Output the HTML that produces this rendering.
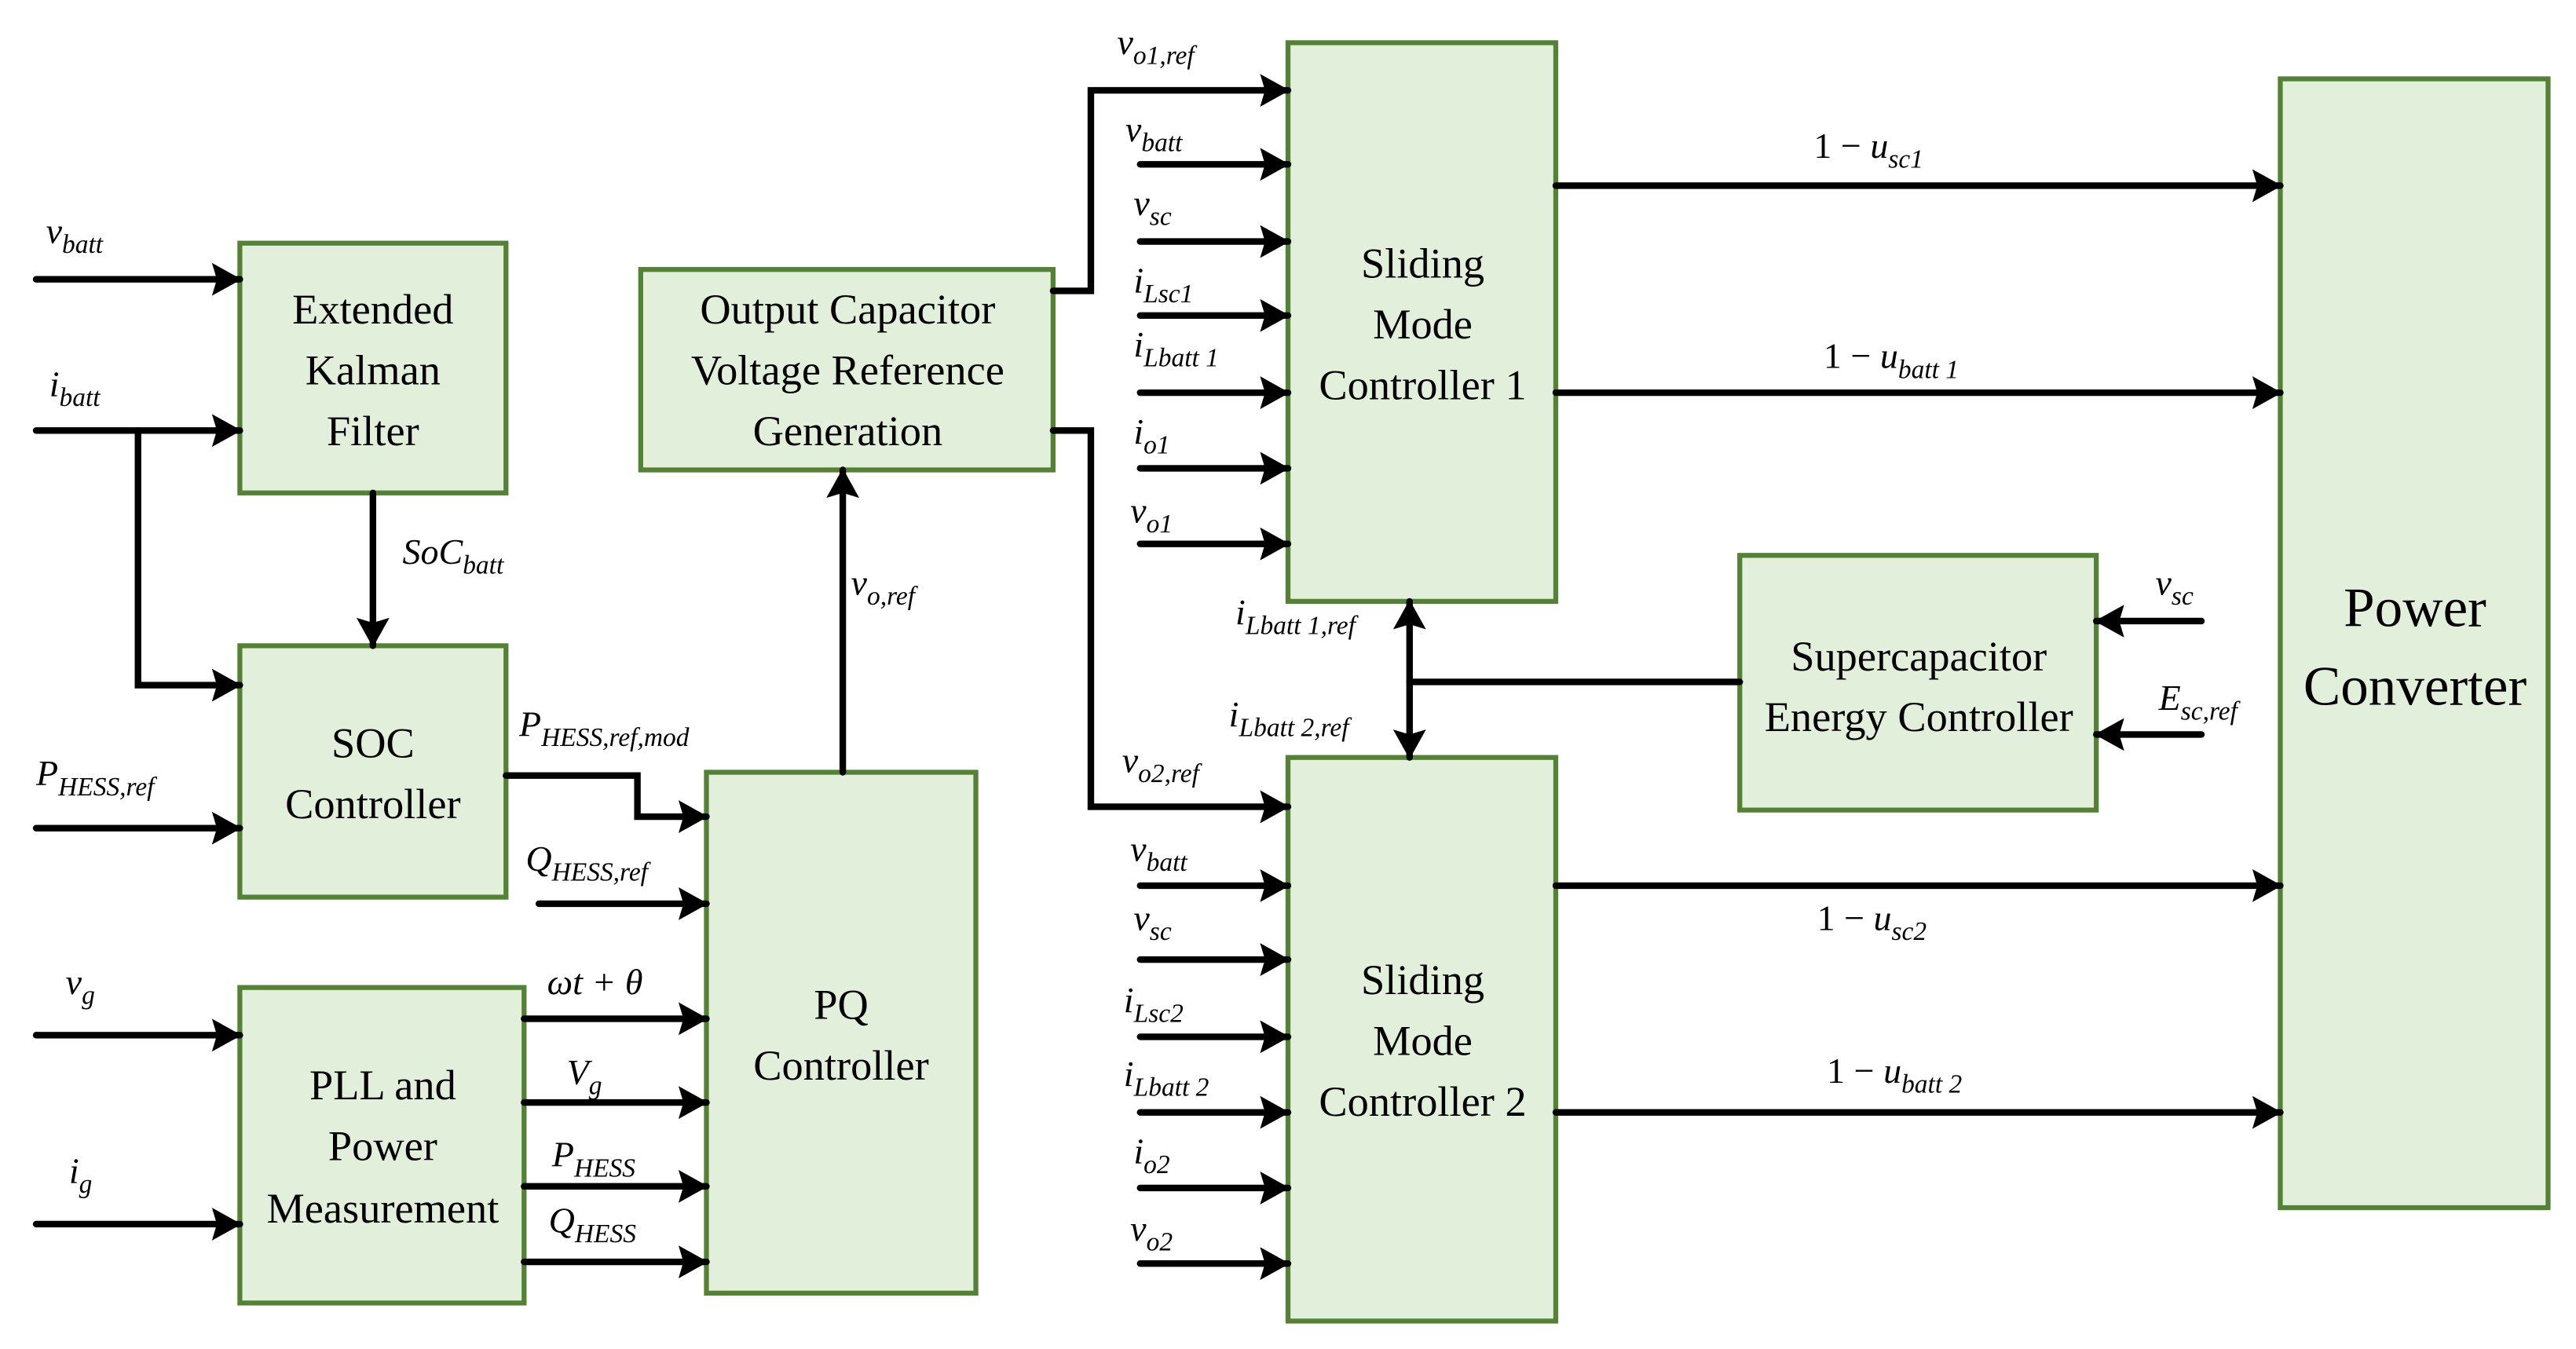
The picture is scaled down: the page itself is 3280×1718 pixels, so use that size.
<!DOCTYPE html>
<html><head><meta charset="utf-8"><style>
html,body{margin:0;padding:0;background:#fff;}
svg{display:block;font-family:'Liberation Serif','DejaVu Serif',serif;}
svg text{font-family:'Liberation Serif','DejaVu Serif',serif;fill:#000;}
.b{fill:#e2efda;stroke:#548235;stroke-width:3;}
.t{font-size:26px;text-anchor:middle;}
.l{fill:none;stroke:#000;stroke-width:4;stroke-linecap:round;}
.m{font-size:22px;font-style:italic;}
.s{font-size:16px;}
</style></head><body>
<svg width="3280" height="1718" viewBox="0 0 1568 821" preserveAspectRatio="none" xmlns="http://www.w3.org/2000/svg" font-family="Liberation Serif, serif">
<defs>
<marker id="a" markerUnits="userSpaceOnUse" markerWidth="18" markerHeight="20" refX="17" refY="10" orient="auto-start-reverse"><path d="M0,0 L18,10 L0,20 L3,10 Z" fill="#000"/></marker>
</defs>
<rect class="b" x="146" y="148" width="162" height="152"/>
<text class="t" x="227" y="197">Extended</text><text class="t" x="227" y="234">Kalman</text><text class="t" x="227" y="271">Filter</text>
<rect class="b" x="146" y="393" width="162" height="153"/>
<text class="t" x="227" y="461">SOC</text><text class="t" x="227" y="498">Controller</text>
<rect class="b" x="146" y="601" width="173" height="192"/>
<text class="t" x="233" y="669">PLL and</text><text class="t" x="233" y="706">Power</text><text class="t" x="233" y="744">Measurement</text>
<rect class="b" x="390" y="164" width="251" height="122"/>
<text class="t" x="516" y="197">Output Capacitor</text><text class="t" x="516" y="234">Voltage Reference</text><text class="t" x="516" y="271">Generation</text>
<rect class="b" x="430" y="470" width="164" height="317"/>
<text class="t" x="512" y="620">PQ</text><text class="t" x="512" y="657">Controller</text>
<rect class="b" x="784" y="26" width="163" height="340"/>
<text class="t" x="866" y="169">Sliding</text><text class="t" x="866" y="206">Mode</text><text class="t" x="866" y="243">Controller 1</text>
<rect class="b" x="784" y="461" width="163" height="343"/>
<text class="t" x="866" y="605">Sliding</text><text class="t" x="866" y="642">Mode</text><text class="t" x="866" y="679">Controller 2</text>
<rect class="b" x="1059" y="338" width="217" height="155"/>
<text class="t" x="1168" y="408">Supercapacitor</text><text class="t" x="1168" y="445">Energy Controller</text>
<rect class="b" x="1388" y="48" width="163" height="687"/>
<text class="t" x="1470" y="381" style="font-size:34px">Power</text><text class="t" x="1470" y="429" style="font-size:34px">Converter</text>
<g class="l" marker-end="url(#a)">
<path d="M22,170H146"/><path d="M22,262H146"/><path d="M84,262V417H146"/>
<path d="M227,300V393"/><path d="M22,504H146"/><path d="M22,630H146"/><path d="M22,745H146"/>
<path d="M308,472H388V497H430"/><path d="M328,550H430"/>
<path d="M319,620H430"/><path d="M319,671H430"/><path d="M319,722H430"/><path d="M319,768H430"/>
<path d="M513,470V286"/>
<path d="M641,177H664V55H784"/><path d="M641,262H664V491H784"/>
<path d="M694,100H784"/><path d="M694,147H784"/><path d="M694,192H784"/><path d="M694,239H784"/><path d="M694,285H784"/><path d="M694,331H784"/>
<path d="M694,539H784"/><path d="M694,584H784"/><path d="M694,631H784"/><path d="M694,677H784"/><path d="M694,723H784"/><path d="M694,769H784"/>
<path d="M947,113H1388"/><path d="M947,239H1388"/><path d="M947,539H1388"/><path d="M947,677H1388"/>
<path d="M1340,378H1276"/><path d="M1340,447H1276"/>
<path d="M858,415V461" /><path d="M858,415V366"/>
</g>
<path class="l" d="M858,415H1059"/>
<g class="m">
<text x="28" y="148">v<tspan class="s" dy="6">batt</tspan></text>
<text x="30" y="241">i<tspan class="s" dy="6">batt</tspan></text>
<text x="245" y="343">SoC<tspan class="s" dy="6">batt</tspan></text>
<text x="22" y="478">P<tspan class="s" dy="6">HESS,ref</tspan></text>
<text x="40" y="605">v<tspan class="s" dy="6">g</tspan></text>
<text x="42" y="720">i<tspan class="s" dy="6">g</tspan></text>
<text x="316" y="448">P<tspan class="s" dy="6">HESS,ref,mod</tspan></text>
<text x="320" y="530">Q<tspan class="s" dy="6">HESS,ref</tspan></text>
<text x="333" y="605">ωt + θ</text>
<text x="345" y="660">V<tspan class="s" dy="6">g</tspan></text>
<text x="336" y="710">P<tspan class="s" dy="6">HESS</tspan></text>
<text x="334" y="750">Q<tspan class="s" dy="6">HESS</tspan></text>
<text x="518" y="362">v<tspan class="s" dy="6">o,ref</tspan></text>
<text x="680" y="33">v<tspan class="s" dy="6">o1,ref</tspan></text>
<text x="683" y="470">v<tspan class="s" dy="6">o2,ref</tspan></text>
<text x="685" y="86">v<tspan class="s" dy="6">batt</tspan></text>
<text x="690" y="131">v<tspan class="s" dy="6">sc</tspan></text>
<text x="690" y="178">i<tspan class="s" dy="6">Lsc1</tspan></text>
<text x="690" y="217">i<tspan class="s" dy="6">Lbatt 1</tspan></text>
<text x="690" y="270">i<tspan class="s" dy="6">o1</tspan></text>
<text x="688" y="318">v<tspan class="s" dy="6">o1</tspan></text>
<text x="688" y="524">v<tspan class="s" dy="6">batt</tspan></text>
<text x="690" y="566">v<tspan class="s" dy="6">sc</tspan></text>
<text x="684" y="616">i<tspan class="s" dy="6">Lsc2</tspan></text>
<text x="684" y="661">i<tspan class="s" dy="6">Lbatt 2</tspan></text>
<text x="690" y="708">i<tspan class="s" dy="6">o2</tspan></text>
<text x="688" y="755">v<tspan class="s" dy="6">o2</tspan></text>
<text x="752" y="380">i<tspan class="s" dy="6">Lbatt 1,ref</tspan></text>
<text x="748" y="442">i<tspan class="s" dy="6">Lbatt 2,ref</tspan></text>
<text x="1312" y="362">v<tspan class="s" dy="6">sc</tspan></text>
<text x="1314" y="432">E<tspan class="s" dy="6">sc,ref</tspan></text>
<text x="1104" y="96"><tspan style="font-style:normal">1 − </tspan>u<tspan class="s" dy="6">sc1</tspan></text>
<text x="1110" y="224"><tspan style="font-style:normal">1 − </tspan>u<tspan class="s" dy="6">batt 1</tspan></text>
<text x="1106" y="566"><tspan style="font-style:normal">1 − </tspan>u<tspan class="s" dy="6">sc2</tspan></text>
<text x="1112" y="659"><tspan style="font-style:normal">1 − </tspan>u<tspan class="s" dy="6">batt 2</tspan></text>
</g>
</svg>
</body></html>
